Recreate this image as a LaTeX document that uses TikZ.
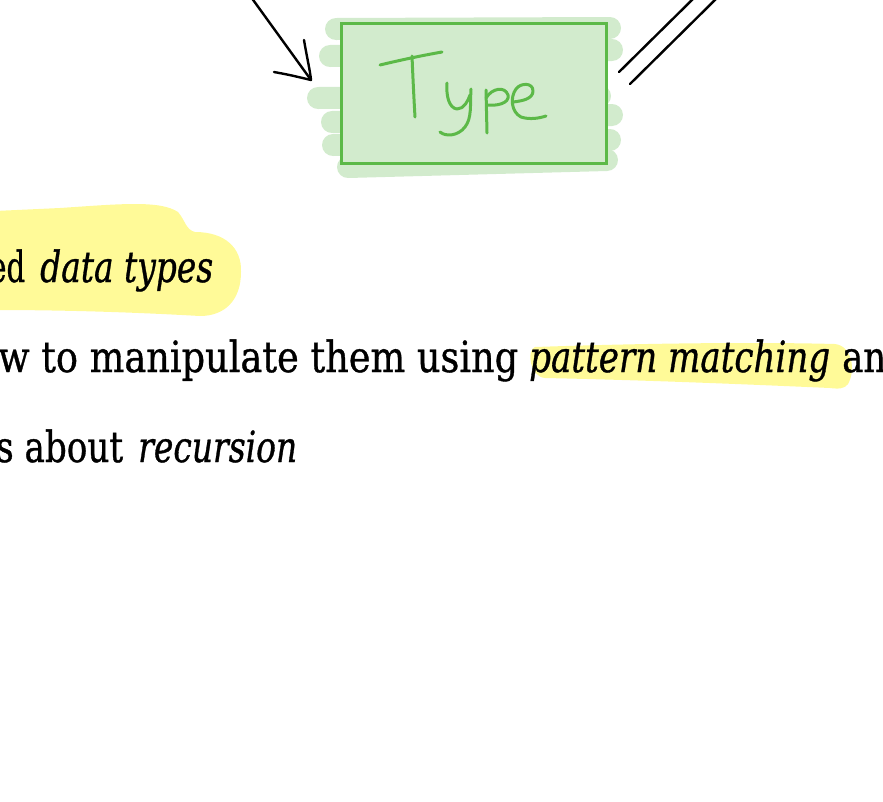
\documentclass[tikz,border=0pt]{standalone}
\usepackage{fontspec}
\setmainfont{DejaVu Serif}[FakeBold=0.9]
\usepackage{graphicx}
\definecolor{inkgreen}{RGB}{92,185,72}
\definecolor{washgreen}{RGB}{210,235,205}
\definecolor{marker}{RGB}{255,250,152}
% set a piece of text to a given width, keeping its height
\newcommand{\fitto}[2]{\resizebox{#1}{\height}{#2}}
\tikzset{
  wash/.style={washgreen, line width=22pt, line cap=round},
  ink/.style={inkgreen, line width=3pt, line cap=round, line join=round},
  pen/.style={black, line width=2.4pt, line cap=round, line join=round},
  body/.style={inner sep=0pt, font=\fontsize{43}{50}\selectfont},
}
\begin{document}
\begin{tikzpicture}[x=1pt, y=-1pt]
\useasboundingbox (0,0) rectangle (883,801);
\clip (0,0) rectangle (883,801);

% marker highlights behind the text
\fill[marker] (-5,211) -- (60,208) .. controls (120,204) and (160,200) .. (178,212)
  .. controls (185,220) and (186,230) .. (195,232)
  .. controls (225,232) and (242,248) .. (241,272)
  .. controls (241,300) and (225,316) .. (200,316)
  .. controls (130,312) and (60,310) .. (-5,310) -- cycle;
\fill[marker] (535,347) .. controls (650,343) and (760,342) .. (835,344)
  .. controls (852,346) and (856,370) .. (848,384)
  .. controls (845,389) and (838,389) .. (830,388)
  .. controls (740,384) and (640,380) .. (545,378)
  .. controls (530,377) and (526,350) .. (535,347) -- cycle;

% green wash behind the box
\draw[wash] (336,29) -- (610,28);
\draw[wash] (330,56) -- (612,50);
\draw[wash] (318,98) -- (600,96);
\draw[wash] (332,122) -- (612,115);
\draw[wash] (333,145) -- (610,140);
\draw[wash] (348,167) -- (607,160);
\fill[washgreen] (341,23) rectangle (606,163);

% the box
\node[draw=inkgreen, line width=3pt, minimum width=265pt, minimum height=140pt,
      inner sep=0pt] (type) at (473.5,93) {};

% handwritten "Type"
\draw[ink] (380,65) .. controls (405,59) and (425,55) .. (442,52);
\draw[ink] (412,56) .. controls (413,80) and (414,100) .. (415,117);
\draw[ink] (447,83) .. controls (446,96) and (449,108) .. (457,109)
  .. controls (464,109) and (468,101) .. (470,95);
\draw[ink] (471,89) .. controls (470,105) and (472,118) .. (465,127)
  .. controls (458,136) and (446,137) .. (440,132);
\draw[ink] (486,90) -- (487,133);
\draw[ink] (486,98) .. controls (492,88) and (505,86) .. (508,95)
  .. controls (510,104) and (495,106) .. (488,105);
\draw[ink] (513,102) .. controls (522,101) and (533,99) .. (533,91)
  .. controls (533,82) and (520,83) .. (516,89)
  .. controls (510,97) and (511,112) .. (521,117)
  .. controls (530,120) and (540,118) .. (546,116);

% arrow coming in from the upper left
\coordinate (lsrc) at (251,-3);
\coordinate (ltip) at (311,80);
\draw[pen] (lsrc) -- (ltip);
\draw[pen] (274,72) .. controls (290,75) .. (ltip);
\draw[pen] (304,40) .. controls (307,58) and (310,70) .. (ltip);

% double line leaving to the upper right
\coordinate (ra0) at (619,72);
\coordinate (ra1) at (697,-5);
\coordinate (rb0) at (630,84);
\coordinate (rb1) at (720,-5);
\draw[pen] (ra0) -- (ra1);
\draw[pen] (rb0) -- (rb1);

% text lines
\node[body, anchor=base west] (t1a) at (-11,282) {\fitto{36pt}{ed}};
\node[body, anchor=base west] (t1b) at (40,282) {\fitto{173pt}{\itshape data types}};
\node[body, anchor=base west] (t2a) at (-2,372) {\fitto{520pt}{w to manipulate them using}};
\node[body, anchor=base west] (t2b) at (529,372) {\fitto{301pt}{\itshape pattern matching}};
\node[body, anchor=base west] (t2c) at (842,372) {\fitto{44pt}{an}};
\node[body, anchor=base west] (t3a) at (-4,462) {\fitto{127pt}{s about}};
\node[body, anchor=base west] (t3b) at (138,462) {\fitto{159pt}{\itshape recursion}};
\end{tikzpicture}
\end{document}
